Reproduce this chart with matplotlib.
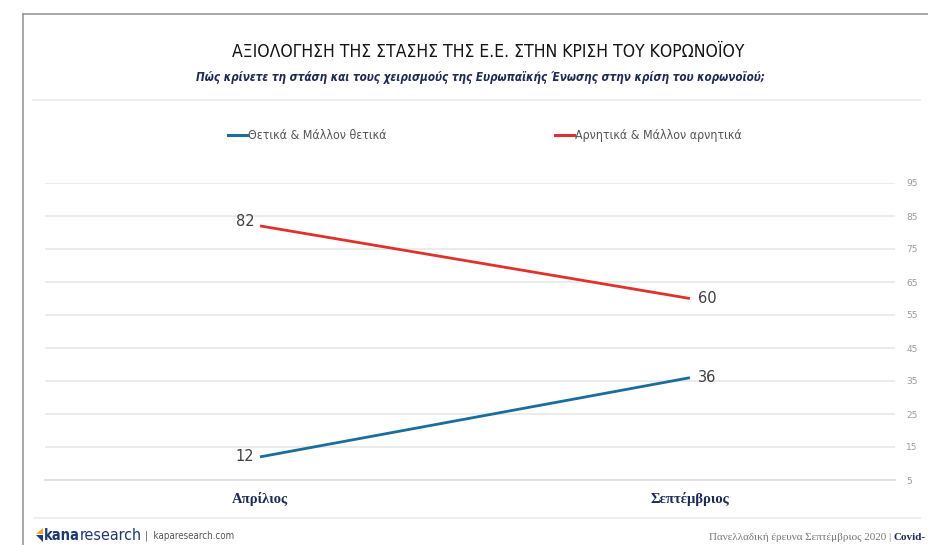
import matplotlib
matplotlib.use("Agg")
import matplotlib.pyplot as plt
from matplotlib.lines import Line2D
from matplotlib.patches import Polygon

# data
months = ["Απρίλιος", "Σεπτέμβριος"]
positive = [12, 36]
negative = [82, 60]
series_names = ["Θετικά & Μάλλον θετικά", "Αρνητικά & Μάλλον αρνητικά"]
y_ticks = [5, 15, 25, 35, 45, 55, 65, 75, 85, 95]

title = "ΑΞΙΟΛΟΓΗΣΗ ΤΗΣ ΣΤΑΣΗΣ ΤΗΣ Ε.Ε. ΣΤΗΝ ΚΡΙΣΗ ΤΟΥ ΚΟΡΩΝΟΪΟΥ"
subtitle = "Πώς κρίνετε τη στάση και τους χειρισμούς της Ευρωπαϊκής Ένωσης στην κρίση του κορωνοϊού;"

blue = "#1b6d9e"
red = "#e0322c"
navy = "#1f2a55"

W, H = 929, 545
fig = plt.figure(figsize=(W / 100, H / 100), dpi=100)


def fx(px):
    return px / W


def fy(py):
    return 1 - py / H


sans = ["DejaVu Sans"]
serif = ["Liberation Serif", "DejaVu Serif"]

# outer frame (top + left)
fig.add_artist(Line2D([fx(23), 1.0], [fy(14), fy(14)], color="#9a9a9a", lw=1.2))
fig.add_artist(Line2D([fx(23), fx(23)], [fy(14), 0.0], color="#9a9a9a", lw=1.2))
# separators
fig.add_artist(Line2D([fx(33), fx(920)], [fy(100), fy(100)], color="#eeeeee", lw=1.5))
fig.add_artist(Line2D([fx(35), fx(920)], [fy(518), fy(518)], color="#eeeeee", lw=1.5))

fig.text(fx(488), fy(52), title, ha="center", va="center", fontsize=12.6,
         family=sans, stretch="condensed", color="#141414")
fig.text(fx(480), fy(77), subtitle, ha="center", va="center", fontsize=8.4,
         family=sans, stretch="condensed", style="italic", weight="bold", color=navy)

# axes: categories at 0 and 1, y 5..95
ax = fig.add_axes([fx(45), fy(480), fx(895) - fx(45), fy(183) - fy(480)])
x = list(range(len(months)))
ax.set_xlim(-0.5, 1.477)
ax.set_ylim(5, 95)

ax.plot(x, positive, color=blue, lw=2, solid_capstyle="butt")
ax.plot(x, negative, color=red, lw=2, solid_capstyle="butt")

for series, dy0 in [(positive, 0), (negative, 3)]:
    for xi, v in zip(x, series):
        if xi == 0:
            ax.annotate(str(v), (xi, v), xytext=(-4, dy0), textcoords="offset points",
                        ha="right", va="center", fontsize=10.5, color="#404040")
        else:
            ax.annotate(str(v), (xi, v), xytext=(6, 0), textcoords="offset points",
                        ha="left", va="center", fontsize=10.5, color="#404040")

ax.set_yticks(y_ticks)
ax.yaxis.tick_right()
ax.tick_params(axis="y", length=0, pad=8, labelsize=6.5, labelcolor="#9a9a9a")
ax.grid(axis="y", color="#e8e8e8", lw=1.2)
ax.set_axisbelow(True)
ax.set_xticks(x)
ax.set_xticklabels(months, family=serif, weight="bold", fontsize=10.5, color=navy)
ax.tick_params(axis="x", length=0, pad=9)
for s in ["top", "left", "right"]:
    ax.spines[s].set_visible(False)
ax.spines["bottom"].set_color("#dddddd")
ax.spines["bottom"].set_linewidth(1.2)

# legend drawn by hand in figure coords
for (x0, col, name) in [(228, blue, series_names[0]), (555, red, series_names[1])]:
    fig.add_artist(Line2D([fx(x0), fx(x0 + 19)], [fy(135), fy(135)], color=col, lw=2.2))
    fig.text(fx(x0 + 20), fy(135), name, ha="left", va="center", fontsize=8.9,
             family=sans, stretch="condensed", color="#555555")

# footer logo
fig.add_artist(Polygon([(fx(43), fy(528)), (fx(36), fy(534)), (fx(43), fy(534))],
                       closed=True, facecolor="#f2a51e", edgecolor="none"))
fig.add_artist(Polygon([(fx(43), fy(535)), (fx(36), fy(535)), (fx(43), fy(542))],
                       closed=True, facecolor="#1f3a6e", edgecolor="none"))
fig.text(fx(44), fy(536), "kana", ha="left", va="center", fontsize=10.5, weight="bold",
         color="#1f3a6e", family=sans, stretch="condensed")
fig.text(fx(80), fy(536), "research", ha="left", va="center", fontsize=11.5,
         color="#1f3a6e", family=sans, stretch="condensed")
fig.text(fx(145), fy(536), "|  kaparesearch.com", ha="left", va="center", fontsize=7,
         color="#555555", family=sans, stretch="condensed")
fig.text(fx(891), fy(537), "Πανελλαδική έρευνα Σεπτέμβριος 2020 |", ha="right", va="center",
         fontsize=8, color="#777777", family=serif)
fig.text(fx(894), fy(537), "Covid-", ha="left", va="center", fontsize=8, weight="bold",
         color=navy, family=serif)

fig.savefig("out.png", dpi=100)
